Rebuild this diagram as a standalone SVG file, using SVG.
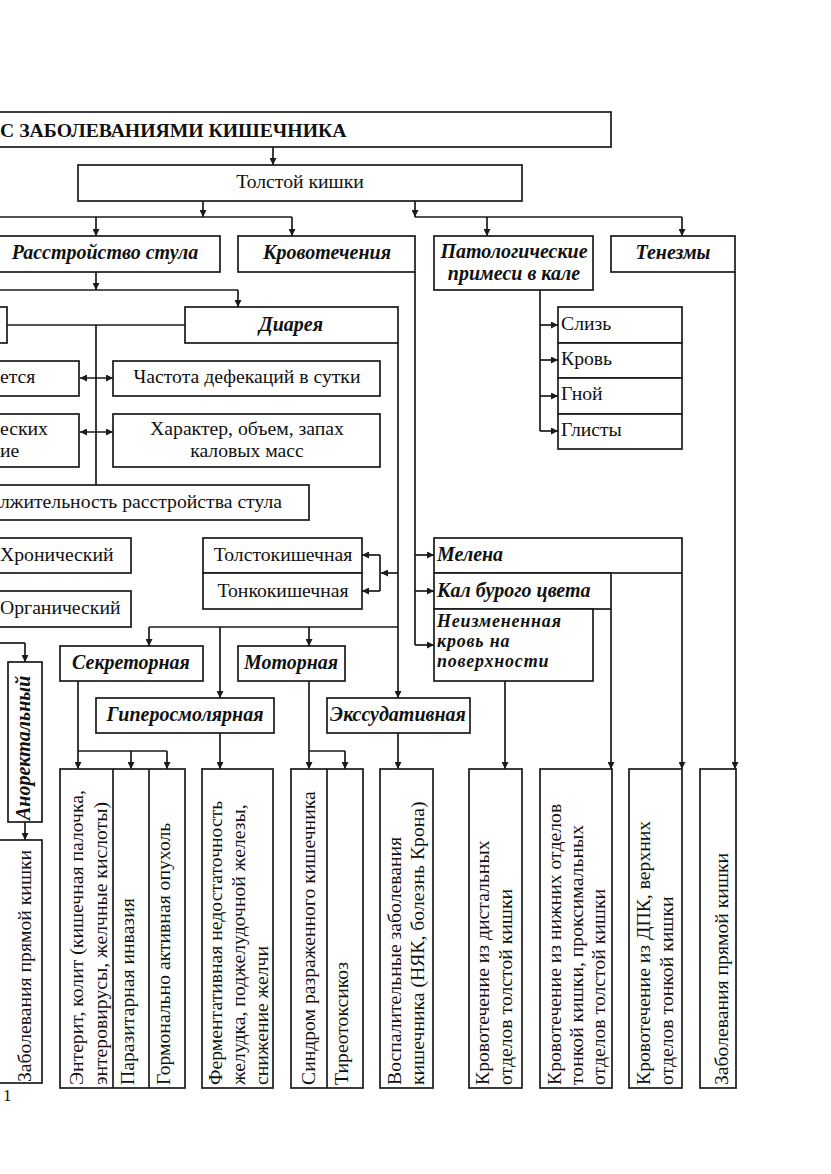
<svg xmlns="http://www.w3.org/2000/svg" width="831" height="1174" viewBox="0 0 831 1174">
<defs>
<marker id="ah" viewBox="0 0 10 10" refX="10" refY="5" markerWidth="7" markerHeight="7" markerUnits="userSpaceOnUse" orient="auto-start-reverse">
<path d="M0,0 L10,5 L0,10 z" fill="#1a1a1a"/>
</marker>
<style>
rect{fill:#fff;stroke:#1a1a1a;stroke-width:1.7}
.c line{stroke:#1a1a1a;stroke-width:1.7;fill:none}
.a{marker-end:url(#ah)}
.b{marker-start:url(#ah);marker-end:url(#ah)}
line.d{stroke:#1a1a1a;stroke-width:1.7}
text{font-family:"Liberation Serif","Times New Roman",serif;font-size:19.7px;fill:#111}
.bi{font-weight:bold;font-style:italic;font-size:20px}
.bs{font-size:18px;letter-spacing:0.8px}
.bo{font-weight:bold}
.m{text-anchor:middle}
.e{text-anchor:end}
</style>
</defs>
<rect width="831" height="1174" style="fill:#fff;stroke:none"/>

<g id="n-title"><rect x="-5" y="112" width="616" height="35"/><text class="bo" x="0" y="137">С ЗАБОЛЕВАНИЯМИ КИШЕЧНИКА</text></g>
<g id="n-tolstoy"><rect x="78" y="165" width="444" height="36"/><text class="m" x="300" y="188">Толстой кишки</text></g>

<g id="n-rasstr"><rect x="-5" y="236" width="225" height="36"/><text class="bi m" x="105" y="259">Расстройство стула</text></g>
<g id="n-krovot"><rect x="238" y="236" width="177" height="36"/><text class="bi m" x="327" y="259">Кровотечения</text></g>
<g id="n-patol"><rect x="434" y="236" width="159" height="54"/><text class="bi m" x="514" y="258">Патологические</text><text class="bi m" x="514" y="280">примеси в кале</text></g>
<g id="n-tenezm"><rect x="611" y="236" width="124" height="36"/><text class="bi m" x="673" y="259">Тенезмы</text></g>

<g id="n-zapor"><rect x="-10" y="307" width="17" height="36"/></g>
<g id="n-diarea"><rect x="185" y="307" width="213" height="36"/><text class="bi m" x="291" y="331">Диарея</text></g>

<g id="n-etsya"><rect x="-10" y="361" width="89" height="35"/><text x="0" y="383">ется</text></g>
<g id="n-chastota"><rect x="113" y="361" width="267" height="35"/><text class="m" x="247" y="383">Частота дефекаций в сутки</text></g>
<g id="n-eskih"><rect x="-10" y="414" width="89" height="53"/><text x="0" y="435">еских</text><text x="0" y="457">ие</text></g>
<g id="n-harakter"><rect x="113" y="414" width="267" height="53"/><text class="m" x="247" y="435">Характер, объем, запах</text><text class="m" x="247" y="457">каловых масс</text></g>
<g id="n-dlit"><rect x="-10" y="485" width="319" height="35"/><text x="0" y="508">лжительность расстройства стула</text></g>

<g id="n-hron"><rect x="-10" y="538" width="141" height="35"/><text x="0" y="561">Хронический</text></g>
<g id="n-organ"><rect x="-10" y="591" width="141" height="36"/><text x="0" y="614">Органический</text></g>

<g id="n-tolstokish"><rect x="203" y="538" width="159" height="35"/><text class="m" x="283" y="561">Толстокишечная</text></g>
<g id="n-tonkokish"><rect x="203" y="573" width="159" height="36"/><text class="m" x="283" y="597">Тонкокишечная</text></g>

<g id="n-melena"><rect x="434" y="538" width="248" height="35"/><text class="bi" x="437" y="561">Мелена</text></g>
<g id="n-kal"><rect x="434" y="573" width="177" height="36"/><text class="bi" x="437" y="597">Кал бурого цвета</text></g>
<g id="n-neizm"><rect x="434" y="609" width="159" height="72"/><text class="bi bs" x="437" y="627">Неизмененная</text><text class="bi bs" x="437" y="647">кровь на</text><text class="bi bs" x="437" y="667">поверхности</text></g>

<g id="n-primesi"><rect x="558" y="307" width="124" height="36"/><rect x="558" y="343" width="124" height="35"/><rect x="558" y="378" width="124" height="36"/><rect x="558" y="414" width="124" height="35"/>
<text x="561" y="330">Слизь</text><text x="561" y="365">Кровь</text><text x="561" y="400">Гной</text><text x="561" y="436">Глисты</text></g>

<g id="n-sekret"><rect x="60" y="646" width="143" height="35"/><text class="bi m" x="131" y="669">Секреторная</text></g>
<g id="n-motor"><rect x="238" y="646" width="107" height="35"/><text class="bi m" x="291" y="669">Моторная</text></g>
<g id="n-giper"><rect x="96" y="698" width="178" height="35"/><text class="bi m" x="185" y="721">Гиперосмолярная</text></g>
<g id="n-exsud"><rect x="327" y="698" width="143" height="35"/><text class="bi m" x="398" y="721">Экссудативная</text></g>

<g id="n-anorekt"><rect x="8" y="662" width="34" height="160"/><text class="bi" transform="translate(30,820) rotate(-90)">Аноректальный</text></g>
<g id="n-zabol-left"><rect x="-10" y="840" width="52" height="243"/><text transform="translate(31,1082) rotate(-90)">Заболевания прямой кишки</text></g>

<g id="n-enterit"><rect x="60" y="769" width="125" height="319"/><line class="d" x1="113" y1="769" x2="113" y2="1088"/><line class="d" x1="149" y1="769" x2="149" y2="1088"/>
<text transform="translate(83,1085) rotate(-90)"><tspan x="0" y="0">Энтерит, колит (кишечная палочка,</tspan><tspan x="0" y="24">энтеровирусы, желчные кислоты)</tspan></text>
<text transform="translate(134,1085) rotate(-90)">Паразитарная инвазия</text>
<text transform="translate(170,1085) rotate(-90)">Гормонально активная опухоль</text></g>
<g id="n-ferment"><rect x="202" y="769" width="71" height="319"/>
<text transform="translate(222,1085) rotate(-90)"><tspan x="0" y="0">Ферментативная недостаточность</tspan><tspan x="0" y="23">желудка, поджелудочной железы,</tspan><tspan x="0" y="46">снижение желчи</tspan></text></g>
<g id="n-sindrom"><rect x="291" y="769" width="72" height="319"/><line class="d" x1="327" y1="769" x2="327" y2="1088"/>
<text transform="translate(315,1085) rotate(-90)">Синдром разраженного кишечника</text>
<text transform="translate(348,1085) rotate(-90)">Тиреотоксикоз</text></g>
<g id="n-vospal"><rect x="380" y="769" width="53" height="319"/>
<text transform="translate(401,1085) rotate(-90)"><tspan x="0" y="0">Воспалительные заболевания</tspan><tspan x="0" y="23">кишечника (НЯК, болезнь Крона)</tspan></text></g>
<g id="n-distal"><rect x="469" y="769" width="53" height="319"/>
<text transform="translate(489,1085) rotate(-90)"><tspan x="0" y="0">Кровотечение из дистальных</tspan><tspan x="0" y="23">отделов толстой кишки</tspan></text></g>
<g id="n-nizhn"><rect x="540" y="769" width="72" height="319"/>
<text transform="translate(561,1085) rotate(-90)"><tspan x="0" y="0">Кровотечение из нижних отделов</tspan><tspan x="0" y="22">тонкой кишки, проксимальных</tspan><tspan x="0" y="44">отделов толстой кишки</tspan></text></g>
<g id="n-dpk"><rect x="629" y="769" width="53" height="319"/>
<text transform="translate(650,1085) rotate(-90)"><tspan x="0" y="0">Кровотечение из ДПК, верхних</tspan><tspan x="0" y="23">отделов тонкой кишки</tspan></text></g>
<g id="n-zabol-right"><rect x="700" y="769" width="36" height="319"/>
<text transform="translate(728,1085) rotate(-90)">Заболевания прямой кишки</text></g>

<text x="3" y="1101" style="font-size:17px">1</text>

<g id="connectors" class="c">
<line class="a" x1="273" y1="147" x2="273" y2="165"/>
<line class="a" x1="203" y1="201" x2="203" y2="217"/>
<line x1="-5" y1="217" x2="292" y2="217"/>
<line class="a" x1="96" y1="217" x2="96" y2="236"/>
<line class="a" x1="292" y1="217" x2="292" y2="236"/>
<line class="a" x1="415" y1="201" x2="415" y2="217"/>
<line x1="415" y1="217" x2="682" y2="217"/>
<line class="a" x1="487" y1="217" x2="487" y2="236"/>
<line class="a" x1="682" y1="217" x2="682" y2="236"/>

<line class="a" x1="96" y1="272" x2="96" y2="290"/>
<line x1="-5" y1="290" x2="238" y2="290"/>
<line class="a" x1="238" y1="290" x2="238" y2="307"/>
<line x1="7" y1="325" x2="185" y2="325"/>
<line x1="96" y1="325" x2="96" y2="485"/>
<line class="b" x1="80" y1="378" x2="113" y2="378"/>
<line class="b" x1="80" y1="432" x2="113" y2="432"/>

<line class="a" x1="398" y1="343" x2="398" y2="698"/>
<line class="a" x1="398" y1="573" x2="381" y2="573"/>
<line x1="380" y1="555" x2="380" y2="591"/>
<line class="a" x1="380" y1="555" x2="362" y2="555"/>
<line class="a" x1="380" y1="591" x2="362" y2="591"/>
<line x1="149" y1="627" x2="398" y2="627"/>
<line class="a" x1="149" y1="627" x2="149" y2="646"/>
<line class="a" x1="220" y1="627" x2="220" y2="698"/>
<line class="a" x1="309" y1="627" x2="309" y2="646"/>

<line x1="-5" y1="643" x2="25" y2="643"/>
<line class="a" x1="25" y1="643" x2="25" y2="662"/>
<line class="a" x1="25" y1="822" x2="25" y2="840"/>

<line class="a" x1="78" y1="681" x2="78" y2="769"/>
<line x1="78" y1="751" x2="167" y2="751"/>
<line class="a" x1="131" y1="751" x2="131" y2="769"/>
<line class="a" x1="167" y1="751" x2="167" y2="769"/>
<line class="a" x1="220" y1="733" x2="220" y2="769"/>
<line class="a" x1="309" y1="681" x2="309" y2="769"/>
<line x1="309" y1="751" x2="345" y2="751"/>
<line class="a" x1="345" y1="751" x2="345" y2="769"/>
<line class="a" x1="398" y1="733" x2="398" y2="769"/>

<line x1="415" y1="272" x2="415" y2="645"/>
<line class="a" x1="415" y1="555" x2="434" y2="555"/>
<line class="a" x1="415" y1="591" x2="434" y2="591"/>
<line class="a" x1="415" y1="645" x2="434" y2="645"/>

<line x1="540" y1="290" x2="540" y2="431"/>
<line class="a" x1="540" y1="325" x2="558" y2="325"/>
<line class="a" x1="540" y1="360" x2="558" y2="360"/>
<line class="a" x1="540" y1="396" x2="558" y2="396"/>
<line class="a" x1="540" y1="431" x2="558" y2="431"/>

<line class="a" x1="505" y1="681" x2="505" y2="769"/>
<line class="a" x1="611" y1="609" x2="611" y2="769"/>
<line class="a" x1="682" y1="573" x2="682" y2="769"/>
<line class="a" x1="735" y1="272" x2="735" y2="769"/>
</g>
</svg>
